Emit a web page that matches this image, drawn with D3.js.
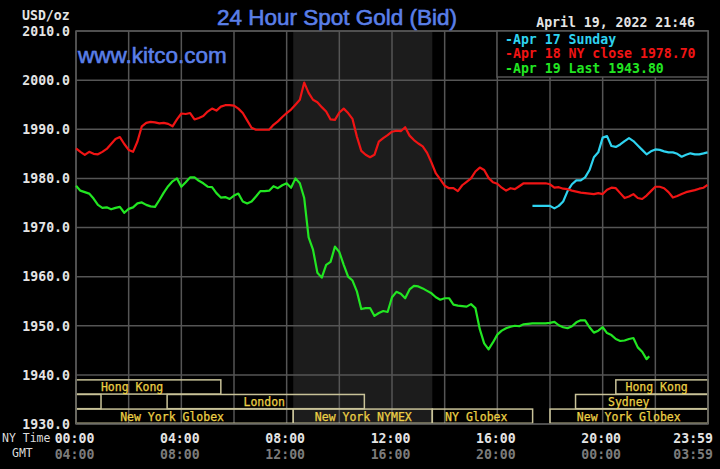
<!DOCTYPE html>
<html>
<head>
<meta charset="utf-8">
<script src="https://cdn.jsdelivr.net/npm/d3@7"></script>
<style>
  html, body { margin: 0; padding: 0; background: #000; }
</style>
</head>
<body>
<div id="chart"></div>
<script>
// 24 hour spot gold, three days overlaid on one NY-time axis

const width = 720,
    height = 469

// y ticks (USD/oz)
const priceTicks = [1930, 1940, 1950, 1960, 1970, 1980, 1990, 2000, 2010]

// x ticks (hours of the NY day)
const tickHours = [0, 4, 8, 12, 16, 20, 23.983]
const nyLabels = ['00:00', '04:00', '08:00', '12:00', '16:00', '20:00', '23:59']
const gmtLabels = ['04:00', '08:00', '12:00', '16:00', '20:00', '00:00', '03:59']

// series: one value every 10 minutes from start, last one at lastMin
const sundayStart = 1040, sundayLast = 1439
const sundayValues = [
  1974.4, 1974.4, 1974.4, 1974.4, 1974.4, 1973.9, 1974.4, 1975.3, 1977.4, 1978.8,
  1979.6, 1979.6, 1980.2, 1981.7, 1984.3, 1985.3, 1988.3, 1988.6, 1986.6, 1986.4,
  1986.9, 1987.6, 1988.2, 1987.6, 1986.7, 1985.8, 1984.9, 1985.5, 1985.9, 1985.8,
  1985.5, 1985.3, 1985.3, 1985.0, 1984.4, 1984.8, 1985.1, 1984.9, 1984.9, 1985.1,
  1985.3
]

const mondayStart = 0, mondayLast = 1439
const mondayValues = [
  1986.1, 1985.4, 1984.8, 1985.4, 1985.0, 1984.9, 1985.4, 1986.0, 1987.0, 1988.0,
  1988.4, 1987.0, 1985.8, 1985.4, 1987.5, 1990.6, 1991.3, 1991.5, 1991.4, 1991.2,
  1991.3, 1991.1, 1990.6, 1992.0, 1993.2, 1993.1, 1993.3, 1992.0, 1992.3, 1992.7,
  1993.6, 1994.2, 1993.8, 1994.6, 1994.9, 1994.9, 1994.8, 1994.2, 1993.3, 1991.8,
  1990.3, 1989.9, 1989.9, 1989.9, 1989.9, 1990.9, 1991.6, 1992.5, 1993.3, 1994.0,
  1995.0, 1996.0, 1999.5, 1997.4, 1996.0, 1995.5, 1994.5, 1993.6, 1992.0, 1991.9,
  1993.4, 1994.2, 1993.3, 1992.1, 1988.5, 1985.6, 1984.8, 1984.3, 1984.8, 1987.5,
  1988.2, 1988.8, 1989.5, 1989.7, 1989.6, 1990.4, 1988.7, 1987.8, 1987.1, 1986.5,
  1985.2, 1983.2, 1981.0, 1979.8, 1978.5, 1978.0, 1978.0, 1977.4, 1978.6, 1979.3,
  1980.0, 1981.4, 1982.2, 1981.7, 1980.1, 1979.2, 1978.9, 1978.1, 1977.5, 1978.0,
  1977.8, 1978.4, 1979.0, 1979.0, 1979.0, 1979.0, 1979.0, 1979.0, 1978.8, 1978.1,
  1978.2, 1977.9, 1977.8, 1977.5, 1977.3, 1977.1, 1977.0, 1976.9, 1976.8, 1977.0,
  1976.8, 1977.7, 1978.1, 1978.0, 1977.0, 1976.0, 1976.3, 1976.8, 1976.0, 1975.8,
  1976.5, 1977.4, 1978.3, 1978.3, 1978.0, 1977.2, 1976.1, 1976.4, 1976.8, 1977.2,
  1977.4, 1977.6, 1977.9, 1978.1, 1978.7
]

const tuesdayStart = 0, tuesdayLast = 1306
const tuesdayValues = [
  1978.5, 1977.5, 1977.2, 1976.9, 1975.9, 1974.6, 1974.0, 1974.1, 1973.7, 1974.0,
  1974.2, 1973.0, 1973.8, 1974.1, 1974.9, 1975.1, 1974.6, 1974.3, 1974.2, 1975.6,
  1977.1, 1978.4, 1979.4, 1980.0, 1978.3, 1979.2, 1980.2, 1980.2, 1979.5, 1979.0,
  1978.3, 1978.2, 1977.0, 1976.1, 1976.2, 1975.8, 1976.5, 1976.9, 1975.3, 1974.9,
  1975.3, 1976.3, 1977.4, 1977.4, 1977.5, 1978.4, 1978.0, 1978.6, 1979.0, 1978.1,
  1980.0, 1979.0, 1976.0, 1968.0, 1965.5, 1960.8, 1959.8, 1962.4, 1963.0, 1966.1,
  1965.0, 1962.4, 1960.0, 1959.2, 1957.0, 1953.4, 1953.6, 1953.6, 1952.0, 1952.6,
  1953.0, 1952.8, 1955.8, 1956.9, 1956.5, 1955.6, 1957.4, 1958.1, 1958.0, 1957.6,
  1957.1, 1956.6, 1955.8, 1955.3, 1955.6, 1955.6, 1954.3, 1954.1, 1954.0, 1953.9,
  1954.4, 1953.6, 1949.3, 1946.4, 1945.2, 1946.6, 1948.2, 1949.0, 1949.5, 1949.8,
  1950.0, 1949.9, 1950.3, 1950.4, 1950.5, 1950.5, 1950.5, 1950.5, 1950.6, 1950.8,
  1950.1, 1949.7, 1949.5, 1949.9, 1950.7, 1951.1, 1951.1, 1949.7, 1948.6, 1949.0,
  1949.7, 1948.5, 1948.1, 1947.3, 1946.9, 1947.0, 1947.3, 1947.5, 1945.6, 1944.7,
  1943.2, 1943.8
]

const legendLabels = ['-Apr 17 Sunday', '-Apr 18 NY close 1978.70', '-Apr 19 Last 1943.80']
const seriesColors = ['#2ed3f0', '#f01414', '#22e622']

// market sessions (hours), row 0 top .. row 2 bottom
const sessions = [
  { row: 0, from: 0, to: 5.5, name: 'Hong Kong', at: 2.13 },
  { row: 0, from: 20.5, to: 24, name: 'Hong Kong', at: 22.05 },
  { row: 1, from: 0, to: 0.95, name: '', at: 0 },
  { row: 1, from: 3.46, to: 10.95, name: 'London', at: 7.15 },
  { row: 1, from: 18.97, to: 24, name: 'Sydney', at: 20.99 },
  { row: 2, from: 0, to: 8.25, name: 'New York Globex', at: 3.65 },
  { row: 2, from: 8.25, to: 13.53, name: 'New York NYMEX', at: 10.91 },
  { row: 2, from: 13.53, to: 17.34, name: 'NY Globex', at: 15.2 },
  { row: 2, from: 18.0, to: 24, name: 'New York Globex', at: 20.99 }
]
const nymexFrom = 8.25, nymexTo = 13.53

const mono = "'DejaVu Sans Mono', monospace"
const sans = "'Liberation Sans', Arial, sans-serif"

const x = d3.scaleLinear().domain([0, 24]).range([76, 708])
const y = d3.scaleLinear().domain([1930, 2010]).range([424, 31])

let svg = d3.select('#chart')
    .append('svg')
    .attr('width', width)
    .attr('height', height)
    .style('background', '#000')
    .style('display', 'block')

// shaded NYMEX hours
svg.append('rect')
    .attr('x', x(nymexFrom))
    .attr('y', y(2010))
    .attr('width', x(nymexTo) - x(nymexFrom))
    .attr('height', y(1930) - y(2010))
    .attr('fill', '#1c1c1c')

// grid
const gridColor = '#555'
svg.append('g')
    .selectAll('line')
    .data(d3.range(0, 25, 2))
    .enter()
    .append('line')
    .attr('x1', d => x(d)).attr('x2', d => x(d))
    .attr('y1', y(2010)).attr('y2', y(1930))
    .attr('stroke', gridColor)
    .attr('stroke-width', 1.5)

svg.append('g')
    .selectAll('line')
    .data(priceTicks)
    .enter()
    .append('line')
    .attr('x1', x(0)).attr('x2', x(24))
    .attr('y1', d => y(d)).attr('y2', d => y(d))
    .attr('stroke', gridColor)
    .attr('stroke-width', 1.5)

// session boxes
const rowTop = (r) => y(1940) + 5 + r * 14.6
const sess = svg.append('g')
sess.selectAll('rect')
    .data(sessions)
    .enter()
    .append('rect')
    .attr('x', d => x(d.from))
    .attr('y', d => rowTop(d.row))
    .attr('width', d => x(d.to) - x(d.from))
    .attr('height', 14.2)
    .attr('fill', 'none')
    .attr('stroke', '#c8c298')
    .attr('stroke-width', 1.5)

sess.selectAll('text')
    .data(sessions.filter(d => d.name))
    .enter()
    .append('text')
    .attr('x', d => x(d.at))
    .attr('y', d => rowTop(d.row) + 7.3)
    .attr('dy', '0.36em')
    .attr('text-anchor', 'middle')
    .attr('font-family', mono)
    .attr('font-size', 11.5)
    .attr('fill', '#ecd046')
    .attr('stroke', '#ecd046')
    .attr('stroke-width', 0.25)
    .text(d => d.name)

// plot frame
svg.append('rect')
    .attr('x', x(0)).attr('y', y(2010))
    .attr('width', x(24) - x(0)).attr('height', y(1930) - y(2010))
    .attr('fill', 'none')
    .attr('stroke', gridColor)
    .attr('stroke-width', 1.5)

// lines
const toPoints = (start, last, values) => values.map((v, i) => [Math.min(start + i * 10, last) / 60, v])
const series = [
  toPoints(sundayStart, sundayLast, sundayValues),
  toPoints(mondayStart, mondayLast, mondayValues),
  toPoints(tuesdayStart, tuesdayLast, tuesdayValues)
]
const line = d3.line().x(d => x(d[0])).y(d => y(d[1]))

svg.append('g')
    .selectAll('path')
    .data(series)
    .enter()
    .append('path')
    .attr('d', line)
    .attr('fill', 'none')
    .attr('stroke', (d, i) => seriesColors[i])
    .attr('stroke-width', 2.2)
    .attr('stroke-linejoin', 'round')

// legend box
svg.append('rect')
    .attr('x', 497).attr('y', y(2010))
    .attr('width', x(24) - 497).attr('height', 46)
    .attr('fill', '#000')
    .attr('stroke', gridColor)
    .attr('stroke-width', 1.5)

svg.append('g')
    .selectAll('text')
    .data(legendLabels)
    .enter()
    .append('text')
    .attr('x', 505)
    .attr('y', (d, i) => 39.5 + i * 14.2)
    .attr('dy', '0.36em')
    .attr('font-family', mono)
    .attr('font-weight', 'bold')
    .attr('font-size', 13.2)
    .attr('fill', (d, i) => seriesColors[i])
    .text(d => d)

// y labels
svg.append('g')
    .selectAll('text')
    .data(priceTicks)
    .enter()
    .append('text')
    .attr('x', 70)
    .attr('y', d => y(d))
    .attr('dy', '0.36em')
    .attr('text-anchor', 'end')
    .attr('font-family', mono)
    .attr('font-weight', 'bold')
    .attr('font-size', 13.2)
    .attr('fill', '#e4e4e4')
    .text(d => d.toFixed(1))

svg.append('text')
    .attr('x', 22).attr('y', 15).attr('dy', '0.36em')
    .attr('font-family', mono).attr('font-weight', 'bold').attr('font-size', 13.2)
    .attr('fill', '#e4e4e4')
    .text('USD/oz')

// x labels
const anchorFor = (i) => i === tickHours.length - 1 ? 'end' : 'middle'
const labelX = (d, i) => i === tickHours.length - 1 ? x(24) + 5 : x(d) - 1.5
svg.append('g')
    .selectAll('text')
    .data(tickHours)
    .enter()
    .append('text')
    .attr('x', labelX)
    .attr('y', 438)
    .attr('dy', '0.36em')
    .attr('text-anchor', (d, i) => anchorFor(i))
    .attr('font-family', mono).attr('font-weight', 'bold').attr('font-size', 13.2)
    .attr('fill', '#e4e4e4')
    .text((d, i) => nyLabels[i])

svg.append('g')
    .selectAll('text')
    .data(tickHours)
    .enter()
    .append('text')
    .attr('x', labelX)
    .attr('y', 454)
    .attr('dy', '0.36em')
    .attr('text-anchor', (d, i) => anchorFor(i))
    .attr('font-family', mono).attr('font-weight', 'bold').attr('font-size', 13.2)
    .attr('fill', '#7c7c7c')
    .text((d, i) => gmtLabels[i])

svg.append('text')
    .attr('x', 2).attr('y', 438).attr('dy', '0.36em')
    .attr('font-family', mono).attr('font-size', 11.5)
    .attr('fill', '#dcdcdc')
    .text('NY Time')

svg.append('text')
    .attr('x', 12).attr('y', 453).attr('dy', '0.36em')
    .attr('font-family', mono).attr('font-size', 11.5)
    .attr('fill', '#dcdcdc')
    .text('GMT')

// titles
svg.append('text')
    .attr('x', 337).attr('y', 25)
    .attr('text-anchor', 'middle')
    .attr('font-family', sans).attr('font-size', 22.5)
    .attr('fill', '#5a7fe8')
    .attr('stroke', '#5a7fe8')
    .attr('stroke-width', 0.6)
    .text('24 Hour Spot Gold (Bid)')

svg.append('text')
    .attr('x', 78).attr('y', 63)
    .attr('font-family', sans).attr('font-size', 22.5)
    .attr('fill', '#5a7fe8')
    .attr('stroke', '#5a7fe8')
    .attr('stroke-width', 0.6)
    .text('www.kitco.com')

svg.append('text')
    .attr('x', 695).attr('y', 22).attr('dy', '0.36em')
    .attr('text-anchor', 'end')
    .attr('font-family', mono).attr('font-weight', 'bold').attr('font-size', 13.2)
    .attr('fill', '#e4e4e4')
    .text('April 19, 2022 21:46')
</script>
</body>
</html>
